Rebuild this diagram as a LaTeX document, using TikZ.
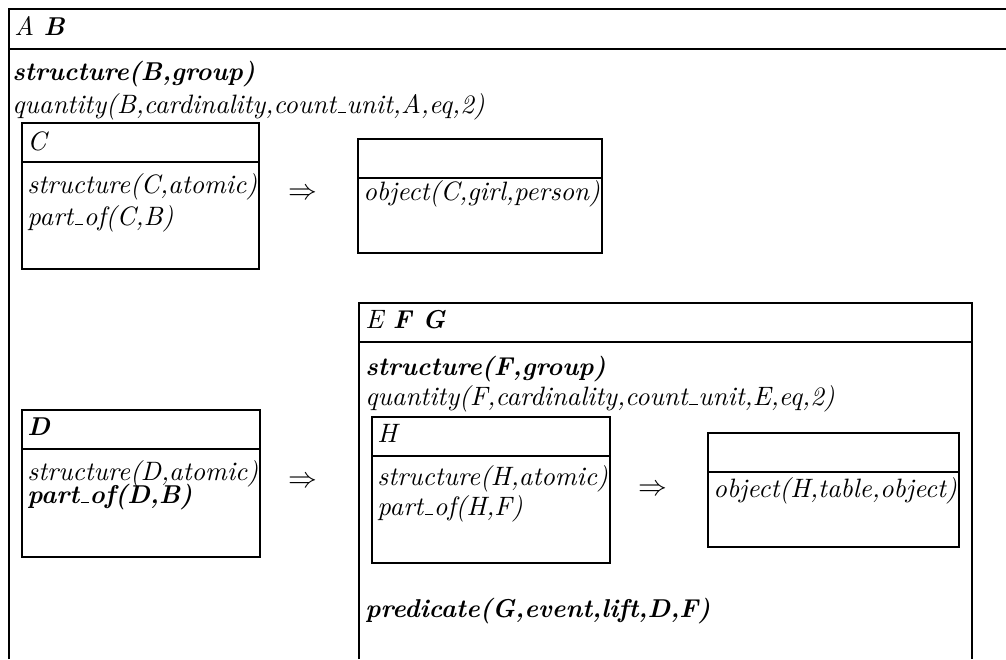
\documentclass[tikz,border=0pt]{standalone}
\usepackage{amsmath}
\usepackage{fontspec}
\setmainfont{lmroman10-regular.otf}[
	ItalicFont=lmroman10-italic.otf,
	BoldFont=lmroman10-bold.otf,
	BoldItalicFont=lmroman10-bolditalic.otf]
\usepackage{tikz}

\newcommand{\us}{\kern.06em\vbox{\hrule width .32em height .5pt}\kern.02em}
\newcommand{\bfit}[1]{{\fontsize{12.9}{16}\selectfont\bfseries #1}}

\begin{document}
\begin{tikzpicture}[x=0.5pt,y=-0.5pt,
	drs/.style={draw=black,line width=1pt},
	txt/.style={anchor=base west,inner sep=0pt,font=\fontsize{13.3}{16}\selectfont\itshape},
	imp/.style={inner sep=0pt,font=\fontsize{13.3}{16}\selectfont}]
	\useasboundingbox (0,0) rectangle (1006,659);

	% outer box
	\draw[drs] (9,659) -- (9,9) -- (1006,9);
	\draw[drs] (9,49) -- (1006,49);
	\node[txt] (hdAB) at (14,35)     {A \bfit{B}};
	\node[txt] (strB) at (12,80)     {\bfit{structure(B,group)}};
	\node[txt] (qtyB) at (12,113)    {quantity(B,cardinality,count\us unit,A,eq,2)};

	% C => object
	\draw[drs] (22,123) rectangle (259,269);
	\draw[drs] (22,162) -- (259,162);
	\node[txt] (hdC) at (27,150)     {C};
	\node[txt] (strC) at (27,193)    {structure(C,atomic)};
	\node[txt] (partC) at (27,225)   {part\us of(C,B)};
	\node[imp] (impC) at (303,194)   {$\Rightarrow$};
	\draw[drs] (358,139) rectangle (602,253);
	\draw[drs] (358,178) -- (602,178);
	\node[txt] (objC) at (363,200)   {object(C,girl,person)};

	% D => E F G
	\draw[drs] (22,410) rectangle (260,557);
	\draw[drs] (22,449) -- (260,449);
	\node[txt] (hdD) at (27,435)     {\bfit{D}};
	\node[txt] (strD) at (27,480)    {structure(D,atomic)};
	\node[txt] (partD) at (27,503)   {\bfit{part\us of(D,B)}};
	\node[imp] (impD) at (303,482)   {$\Rightarrow$};

	\draw[drs] (359,659) -- (359,303) -- (972,303) -- (972,659);
	\draw[drs] (359,342) -- (972,342);
	\node[txt] (hdEFG) at (365,328)  {E \bfit{F G}};
	\node[txt] (strF) at (365,375)   {\bfit{structure(F,group)}};
	\node[txt] (qtyF) at (365,405)   {quantity(F,cardinality,count\us unit,E,eq,2)};

	% H => object
	\draw[drs] (372,417) rectangle (610,563);
	\draw[drs] (372,456) -- (610,456);
	\node[txt] (hdH) at (377,442)    {H};
	\node[txt] (strH) at (377,485)   {structure(H,atomic)};
	\node[txt] (partH) at (377,515)  {part\us of(H,F)};
	\node[imp] (impH) at (653,490)   {$\Rightarrow$};
	\draw[drs] (708,433) rectangle (959,547);
	\draw[drs] (708,472) -- (959,472);
	\node[txt] (objH) at (713,497)   {object(H,table,object)};

	\node[txt] (predG) at (365,617)  {\bfit{predicate(G,event,lift,D,F)}};
\end{tikzpicture}
\end{document}
